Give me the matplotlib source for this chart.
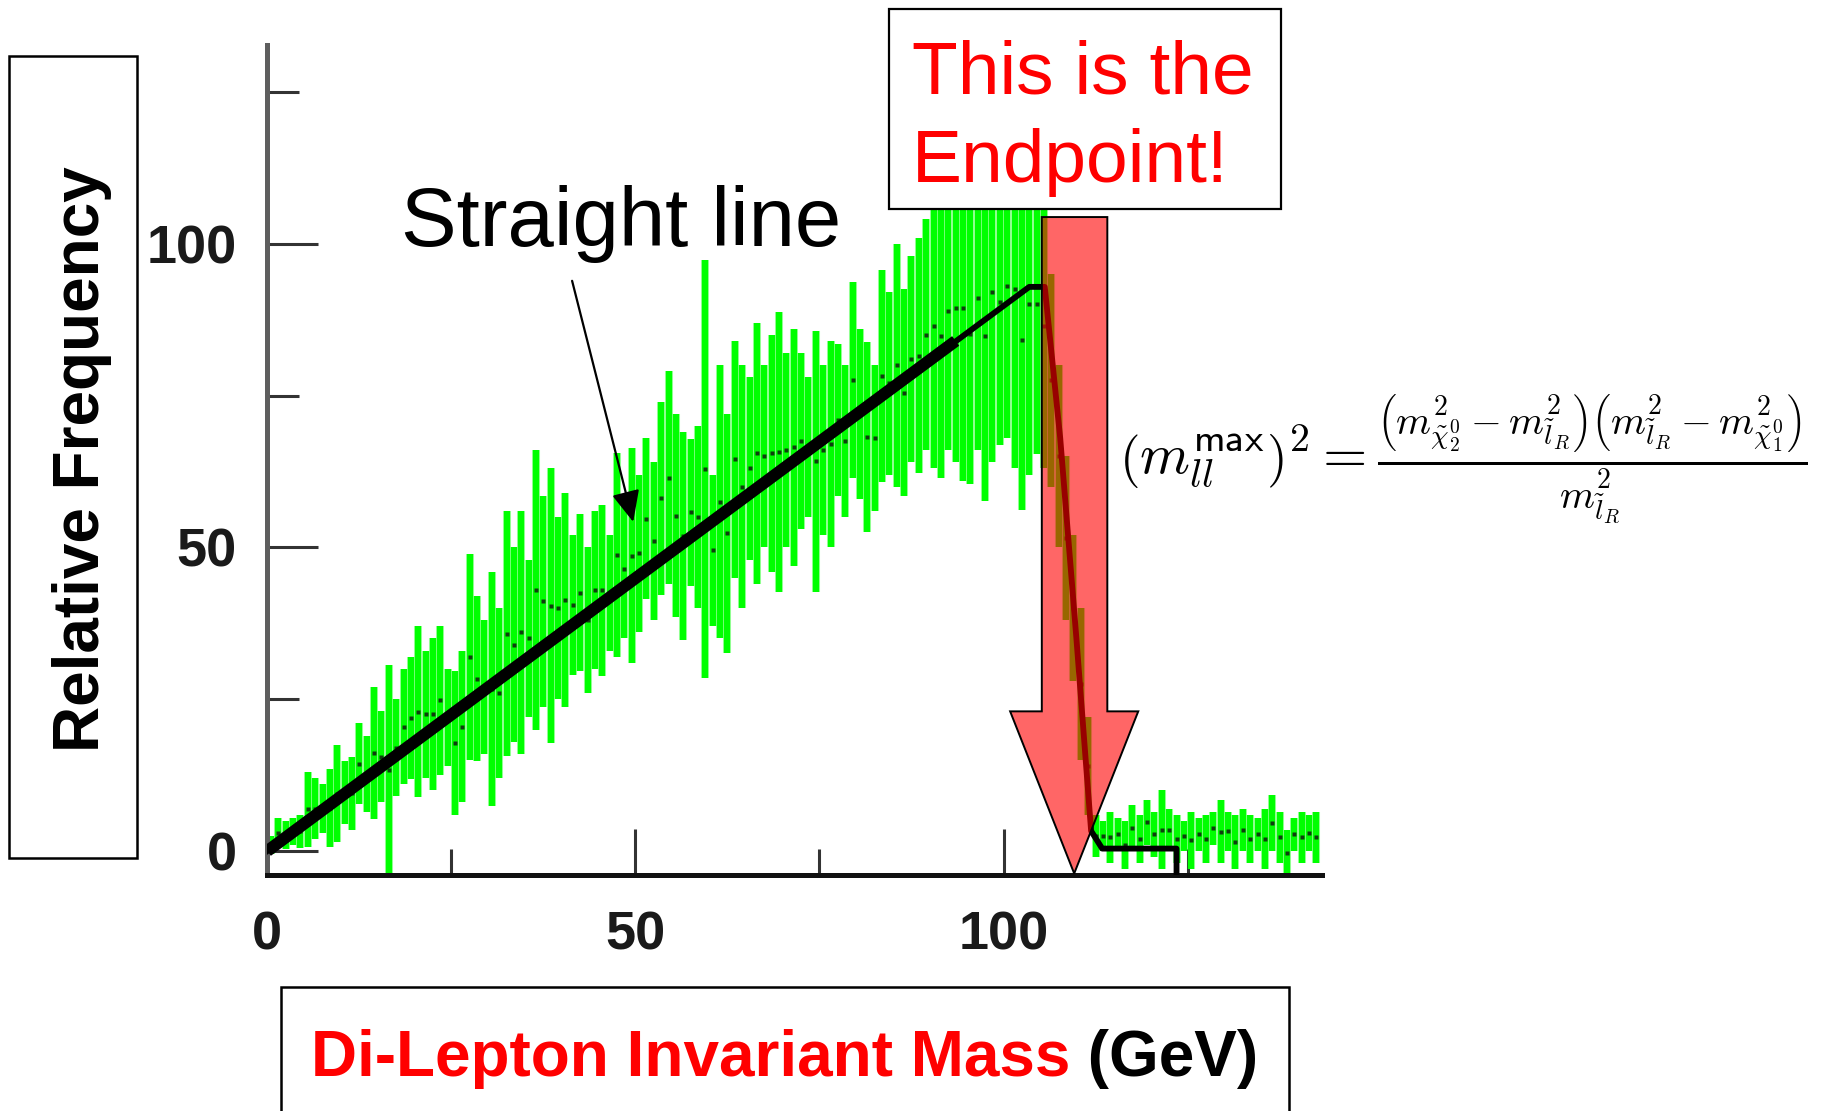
import matplotlib
matplotlib.use('Agg')
import matplotlib.pyplot as plt
from matplotlib.patches import Rectangle, Polygon
import numpy as np

plt.rcParams['font.family'] = ['Liberation Sans', 'DejaVu Sans']
plt.rcParams['mathtext.fontset'] = 'cm'

# di-lepton mass histogram, 1 GeV bins: lower / upper end of each error bar
bar_lo = [
    -0.5, 0.5, 0.4, 1.0, 0.5, 0.7, 2.0, 3.0, 0.7, 1.5,
    4.4, 3.5, 7.8, 6.5, 5.2, 8.0, -4.0, 9.0, 11.0, 11.9,
    8.9, 12.0, 10.0, 12.6, 14.0, 5.9, 8.0, 15.0, 14.8, 16.0,
    7.4, 12.0, 15.6, 18.0, 16.0, 22.0, 20.0, 23.7, 17.8, 25.0,
    23.7, 29.0, 29.6, 26.0, 30.0, 28.9, 33.0, 31.9, 35.0, 31.0,
    36.0, 41.5, 38.0, 42.2, 44.0, 38.5, 34.8, 43.7, 40.0, 28.5,
    37.0, 35.0, 32.6, 45.0, 40.0, 48.0, 44.0, 50.0, 46.0, 42.6,
    50.0, 47.0, 53.0, 55.0, 42.6, 52.0, 50.0, 58.5, 55.0, 61.5,
    58.0, 52.5, 56.0, 60.8, 62.0, 60.0, 58.5, 64.0, 62.3, 66.0,
    63.0, 61.5, 66.0, 64.0, 61.0, 60.4, 66.0, 57.7, 64.0, 66.8,
    68.0, 63.0, 56.2, 62.0, 65.3, 63.0, 60.0, 50.0, 38.0, 28.0,
    15.0, 6.0, -1.0, 0.0, -2.0, 0.0, -3.0, 0.0, -2.0, 1.0,
    -1.0, -3.0, 0.0, -2.0, 0.0, -3.0, 0.0, -2.0, 1.0, -2.0,
    0.0, -3.0, 0.0, -2.0, 0.0, -3.0, 0.0, -2.0, -4.0, 0.0,
    -2.0, 0.0, -2.0]
bar_hi = [
    2.5, 5.5, 5.0, 5.5, 6.0, 13.0, 12.0, 11.0, 13.5, 17.4,
    14.8, 15.5, 21.0, 19.0, 27.0, 23.0, 30.7, 25.0, 30.0, 31.9,
    37.0, 33.0, 35.0, 37.0, 30.0, 29.6, 33.0, 48.9, 42.0, 38.0,
    46.0, 40.0, 56.0, 50.0, 56.0, 48.0, 66.0, 58.5, 63.0, 55.0,
    59.0, 52.0, 55.5, 50.0, 56.0, 57.0, 52.0, 65.5, 58.0, 66.3,
    62.0, 68.0, 64.0, 74.0, 79.0, 72.0, 69.0, 67.8, 70.0, 97.4,
    62.0, 80.0, 72.0, 84.0, 80.0, 78.0, 87.0, 80.0, 85.0, 88.8,
    82.0, 86.0, 82.0, 78.0, 85.7, 80.0, 84.0, 83.5, 80.0, 93.7,
    86.0, 83.8, 80.0, 95.6, 92.0, 100.0, 92.5, 98.0, 100.9, 104.0,
    110.0, 108.0, 112.0, 115.0, 118.0, 110.0, 116.0, 112.0, 120.0, 114.0,
    118.0, 122.0, 112.0, 118.0, 115.0, 110.0, 95.0, 80.0, 65.0, 52.0,
    40.0, 22.0, 6.0, 5.0, 6.5, 5.5, 5.0, 7.5, 6.0, 8.4,
    6.5, 10.0, 7.0, 6.0, 5.0, 6.5, 5.5, 6.0, 6.5, 8.4,
    6.5, 6.0, 7.0, 6.0, 5.5, 7.0, 9.2, 6.5, 3.5, 5.5,
    6.5, 6.0, 6.5]

# fitted shape (thin black curve)
fit_x = [0, 103.5, 105.6, 107.7, 109.9, 111.9, 113.4, 123.5, 123.5]
fit_y = [0, 92.9, 92.9, 68.0, 35.0, 3.3, 0.4, 0.4, -3.9]

# straight line drawn over the rising edge
line_x = [0, 93.5]
line_y = [0, 84.0]

# endpoint arrow outline (GeV, counts)
arrow_x = [105.2, 114.1, 114.1, 118.3, 109.6, 100.9, 105.2]
arrow_y = [104.4, 104.4, 23.0, 23.0, -3.7, 23.0, 23.0]

major_ticks = [0, 50, 100]
minor_ticks = [25, 75, 125]

W, H = 1838, 1111


def fx(px):
    return px / W


def fy(py):
    return 1 - py / H


fig = plt.figure(figsize=(W / 100, H / 100), dpi=100)
fig.patch.set_facecolor('white')
ax = fig.add_axes([fx(267.3), fy(874.7), (1322.3 - 267.3) / W, (874.7 - 44.6) / H])
ax.set_xlim(0, 143.3)
ax.set_ylim(-3.9, 132.8)

lo = np.array(bar_lo)
hi = np.array(bar_hi)
centers = np.arange(len(lo)) + 0.5
ax.vlines(centers, lo, hi, color='#b4ffb4', lw=5.8, zorder=1.5)
ax.vlines(centers, lo, hi, color='#00ff00', lw=4.6, zorder=1.6)
ax.plot(centers, (lo + hi) / 2, 's', ms=3.2, color='#0e3d0e', mec='none', zorder=1.7)

ax.plot(fit_x, fit_y, color='black', lw=4.2, zorder=4)
ax.plot(line_x, line_y, color='black', lw=8.6, solid_capstyle='butt', zorder=5)

ax.add_patch(Polygon(np.column_stack([arrow_x, arrow_y]), closed=True,
                     facecolor=(1, 0, 0, 0.6), edgecolor='black', lw=1.4,
                     zorder=6, clip_on=False))

ax.annotate('', xy=(49.7, 54.2), xytext=(41.4, 93.9),
            arrowprops=dict(arrowstyle='-|>,head_length=0.6,head_width=0.27',
                            color='black', lw=1.6, mutation_scale=32,
                            shrinkA=0, shrinkB=0),
            annotation_clip=False, zorder=7)

for side in ['top', 'right']:
    ax.spines[side].set_visible(False)
ax.spines['left'].set_color('#5e5e5e')
ax.spines['left'].set_linewidth(3.6)
ax.spines['bottom'].set_color('#111111')
ax.spines['bottom'].set_linewidth(3.6)

ax.set_xticks(major_ticks)
ax.set_xticks(minor_ticks, minor=True)
ax.set_yticks(major_ticks)
ax.set_yticks(minor_ticks, minor=True)
ax.tick_params(axis='y', which='major', direction='in', length=37, width=2.2,
               color='#333333', pad=22, labelsize=39, labelcolor='#1a1a1a')
ax.tick_params(axis='y', which='minor', direction='in', length=23, width=2.2,
               color='#333333')
ax.tick_params(axis='x', which='major', direction='in', length=33, width=2.2,
               color='#333333', pad=26, labelsize=39, labelcolor='#1a1a1a')
ax.tick_params(axis='x', which='minor', direction='in', length=19, width=2.2,
               color='#333333')
for lab in ax.get_xticklabels() + ax.get_yticklabels():
    lab.set_fontweight('bold')

# y-axis title in its frame
fig.add_artist(Rectangle((fx(9.4), fy(858)), (137.1 - 9.4) / W, (858 - 56.3) / H,
                         transform=fig.transFigure, facecolor='white',
                         edgecolor='black', lw=1.8, zorder=10))
fig.text(fx(82), fy(459), 'Relative Frequency', rotation=90, ha='center',
         va='center', fontsize=46, fontweight='bold', zorder=11)

fig.text(fx(621), fy(246), 'Straight line', ha='center', va='baseline',
         fontsize=60, zorder=11)

# endpoint call-out
fig.add_artist(Rectangle((fx(888.5), fy(208.7)), (1281.2 - 888.5) / W, (208.7 - 9.4) / H,
                         transform=fig.transFigure, facecolor='white',
                         edgecolor='black', lw=1.6, zorder=10))
fig.text(fx(912), fy(93.8), 'This is the', color='red', fontsize=54,
         va='baseline', zorder=11)
fig.text(fx(912), fy(181.7), 'Endpoint!', color='red', fontsize=54,
         va='baseline', zorder=11)

formula = (r'$\left(m_{ll}^{\mathsf{max}}\right)^{\mathsf{2}} = '
           r'\frac{\left(m^{\mathsf{2}}_{\tilde{\chi}^{\mathsf{0}}_{\mathsf{2}}}'
           r'-m^{\mathsf{2}}_{\tilde{l}_R}\right)'
           r'\left(m^{\mathsf{2}}_{\tilde{l}_R}'
           r'-m^{\mathsf{2}}_{\tilde{\chi}^{\mathsf{0}}_{\mathsf{1}}}\right)}'
           r'{m^{\mathsf{2}}_{\tilde{l}_R}}$')
fig.text(fx(1119), fy(459.5), formula, ha='left', va='center', fontsize=41,
         zorder=11)

# x-axis title in its frame
fig.add_artist(Rectangle((fx(281.3), fy(1130)), (1289.4 - 281.3) / W, (1130 - 987) / H,
                         transform=fig.transFigure, facecolor='white',
                         edgecolor='black', lw=1.8, zorder=10))
t_red = fig.text(fx(310.6), fy(1076), 'Di-Lepton Invariant Mass', color='red',
                 fontsize=46, fontweight='bold', va='baseline', zorder=11)
fig.canvas.draw()
bb = t_red.get_window_extent()
fig.text(bb.x1 / fig.bbox.width, fy(1076), ' (GeV)', color='black',
         fontsize=46, fontweight='bold', va='baseline', zorder=11)

fig.savefig('out.png', dpi=100)
